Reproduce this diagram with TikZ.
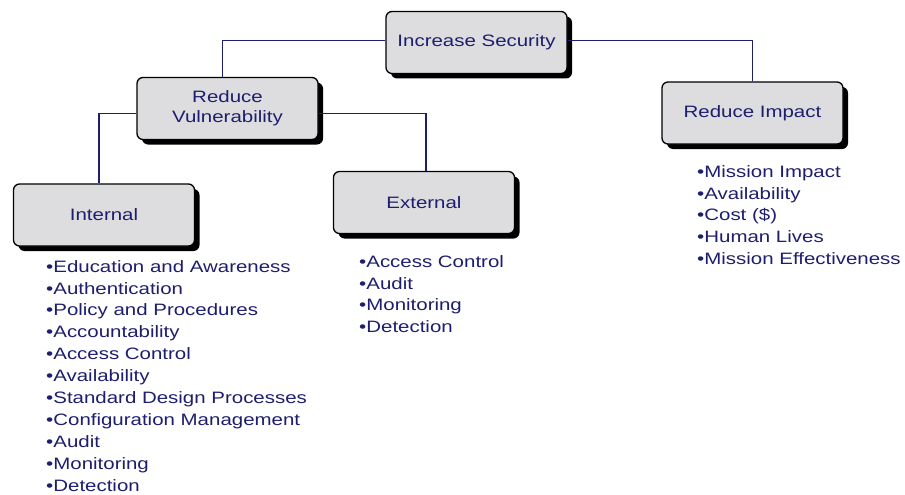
\documentclass[tikz,border=0pt]{standalone}
\usepackage{fontspec}
\setmainfont[FakeStretch=1.24]{Liberation Sans}
\usetikzlibrary{shadows}
\definecolor{navy}{RGB}{30,30,110}
\definecolor{boxgray}{RGB}{221,221,224}
\tikzset{
  goal/.style={
    draw,
    line width=1.3pt,
    fill=boxgray,
    rounded corners=6pt,
    minimum width=181pt,
    minimum height=62pt,
    align=center,
    text=navy,
    font=\fontsize{16.5}{20}\selectfont,
    drop shadow={shadow xshift=5pt, shadow yshift=-5pt, fill=black, opacity=1}
  },
  items/.style={
    anchor=north west,
    inner sep=0pt,
    align=left,
    text=navy,
    font=\fontsize{16.5}{21.9}\selectfont
  },
  link/.style={
    draw=navy,
    line width=1.2pt
  }
}

\begin{document}
\begin{tikzpicture}[x=1pt,y=-1pt]
    \useasboundingbox (0,0) rectangle (905,495);
    % the boxes
    \node[goal] (sec) at (476.5,42.5) {Increase Security};
    \node[goal] (vul) at (227.5,108.5) {Reduce\\Vulnerability};
    \node[goal] (imp) at (752.5,113) {Reduce Impact};
    \node[goal] (int) at (104,215) {Internal};
    \node[goal] (ext) at (424,202.5) {External};
    % connectors
    \draw[link] ([yshift=2pt]sec.west) -| ([xshift=-5pt]vul.north);
    \draw[link] ([yshift=2pt]sec.east) -| (imp.north);
    \draw[link] ([yshift=-5pt]vul.west) -| ([xshift=-5pt]int.north);
    \draw[link] ([yshift=-5pt]vul.east) -| ([xshift=2pt]ext.north);
    % bullet lists
    \node[items] (intlist) at (46,260) {%
        •Education and Awareness\\ •Authentication\\ •Policy and Procedures\\
        •Accountability\\ •Access Control\\ •Availability\\
        •Standard Design Processes\\ •Configuration Management\\
        •Audit\\ •Monitoring\\ •Detection};
    \node[items] (extlist) at (359,255) {%
        •Access Control\\ •Audit\\ •Monitoring\\ •Detection};
    \node[items] (implist) at (697,165) {%
        •Mission Impact\\ •Availability\\ •Cost (\$)\\ •Human Lives\\
        •Mission Effectiveness};
\end{tikzpicture}
\end{document}
